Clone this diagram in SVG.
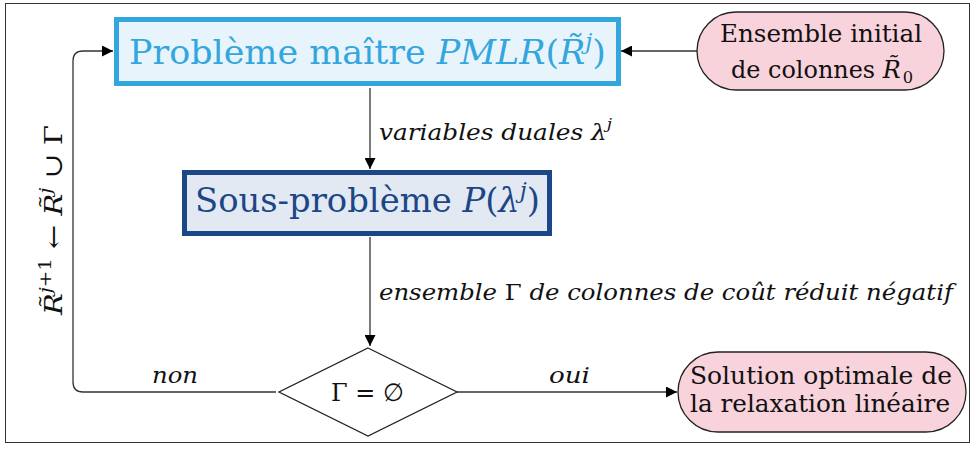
<svg xmlns="http://www.w3.org/2000/svg" width="976" height="449" viewBox="0 0 976 449">
<style>
text{font-family:"DejaVu Serif","Liberation Serif",serif;}
.it{font-style:italic;}
.con{fill:none;stroke:#333;stroke-width:1.3;}
.pill{fill:#f9d3dc;stroke:#222;stroke-width:1.3;}
.lbl{font-size:22px;fill:#111;font-style:italic;}
.nd{font-size:25px;fill:#111;}
</style>
<defs>
<marker id="ah" viewBox="0 0 10 10" refX="10" refY="5" markerWidth="11" markerHeight="11" markerUnits="userSpaceOnUse" orient="auto">
<path d="M0,0 L10,5 L0,10 z" fill="#000"/>
</marker>
</defs>
<rect x="5.5" y="3.5" width="964" height="439" fill="#fff" stroke="#333" stroke-width="1"/>
<g id="connectors">
<path class="con" d="M697,51 H621" marker-end="url(#ah)"/>
<path class="con" d="M370,88 V169" marker-end="url(#ah)"/>
<path class="con" d="M370,237 V346" marker-end="url(#ah)"/>
<path class="con" d="M457,392 H677" marker-end="url(#ah)"/>
<path class="con" d="M276,392 H83 Q73,392 73,382 V61 Q73,51 83,51 H113" marker-end="url(#ah)"/>
<text class="lbl" x="379" y="140" textLength="233" lengthAdjust="spacingAndGlyphs">variables duales λ<tspan font-size="15" dy="-11">j</tspan></text>
<text class="lbl" x="379" y="300" textLength="574" lengthAdjust="spacingAndGlyphs">ensemble <tspan font-style="normal">Γ</tspan> de colonnes de coût réduit négatif</text>
<text class="lbl" x="152" y="383" textLength="46" lengthAdjust="spacingAndGlyphs">non</text>
<text class="lbl" x="549" y="383" textLength="41" lengthAdjust="spacingAndGlyphs">oui</text>
<text class="nd" transform="translate(62,315) rotate(-90)" textLength="190" lengthAdjust="spacingAndGlyphs"><tspan class="it">R̃</tspan><tspan class="it" font-size="17" dy="-11">j</tspan><tspan font-size="17">+1</tspan><tspan dy="11"> ← </tspan><tspan class="it">R̃</tspan><tspan class="it" font-size="17" dy="-11">j</tspan><tspan dy="11"> ∪ Γ</tspan></text>
</g>
<g id="master">
<rect x="116.5" y="19.5" width="502" height="64" fill="#e8f4fb" stroke="#34a6de" stroke-width="5"/>
<text x="129" y="64" font-size="34" fill="#34a6de" textLength="477" lengthAdjust="spacingAndGlyphs">Problème maître <tspan class="it">PMLR</tspan>(<tspan class="it">R̃</tspan><tspan class="it" font-size="22" dy="-15">j</tspan><tspan dy="15">)</tspan></text>
</g>
<g id="initial">
<rect class="pill" x="697" y="12" width="247" height="78" rx="39"/>
<text class="nd" x="720" y="42" textLength="202" lengthAdjust="spacingAndGlyphs">Ensemble initial</text>
<text class="nd" x="731" y="78" textLength="182" lengthAdjust="spacingAndGlyphs">de colonnes <tspan class="it">R̃</tspan><tspan font-size="17" dx="2" dy="5">0</tspan></text>
</g>
<g id="subproblem">
<rect x="184.5" y="172.5" width="365" height="61" fill="#e3e9f2" stroke="#1b4786" stroke-width="5"/>
<text x="195" y="212" font-size="33" fill="#1b4786" textLength="345" lengthAdjust="spacingAndGlyphs">Sous-problème <tspan class="it">P</tspan>(<tspan class="it">λ</tspan><tspan class="it" font-size="22" dy="-14">j</tspan><tspan dy="14">)</tspan></text>
</g>
<g id="decision">
<path d="M368,348 L457,392 L368,436 L279,392 Z" fill="#fff" stroke="#222" stroke-width="1.3"/>
<text class="nd" x="331" y="401" textLength="73" lengthAdjust="spacingAndGlyphs">Γ = ∅</text>
</g>
<g id="solution">
<rect class="pill" x="678" y="352" width="288" height="80" rx="40"/>
<text class="nd" x="690" y="384" textLength="262" lengthAdjust="spacingAndGlyphs">Solution optimale de</text>
<text class="nd" x="690" y="412" textLength="260" lengthAdjust="spacingAndGlyphs">la relaxation linéaire</text>
</g>
</svg>
